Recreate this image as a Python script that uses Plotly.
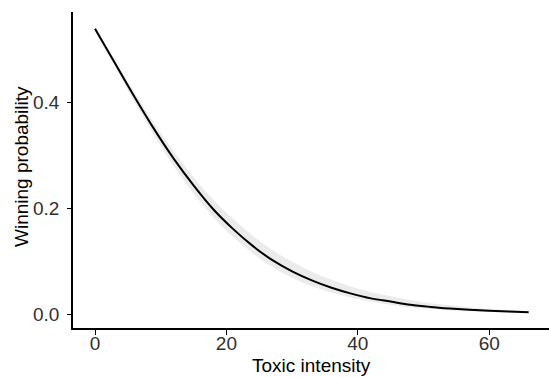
import plotly.graph_objects as go

# Values
toxic_intensity = [0, 3, 6, 9, 12, 15, 18, 21, 24, 27, 30, 33, 36, 39, 42, 45, 48, 51, 54, 57, 60, 63, 66]
win_prob = [0.538, 0.474, 0.410, 0.349, 0.293, 0.243, 0.198, 0.161, 0.129, 0.102, 0.081, 0.064,
            0.050, 0.039, 0.030, 0.024, 0.018, 0.014, 0.011, 0.0086, 0.0066, 0.0051, 0.0040]
ci_lower = [0.533, 0.467, 0.400, 0.337, 0.279, 0.228, 0.183, 0.146, 0.115, 0.089, 0.069, 0.053,
            0.041, 0.031, 0.024, 0.018, 0.013, 0.010, 0.0075, 0.0056, 0.0042, 0.0031, 0.0023]
ci_upper = [0.543, 0.480, 0.418, 0.360, 0.307, 0.259, 0.216, 0.180, 0.148, 0.121, 0.099, 0.080,
            0.065, 0.052, 0.042, 0.034, 0.027, 0.021, 0.017, 0.013, 0.010, 0.0080, 0.0063]

x_ticks = [0, 20, 40, 60]
y_ticks = [0.0, 0.2, 0.4]
y_tick_labels = ["0.0", "0.2", "0.4"]
x_title = "Toxic intensity"
y_title = "Winning probability"

fig = go.Figure()
fig.add_trace(go.Scatter(x=toxic_intensity, y=ci_upper, mode="lines", line=dict(width=0, shape="spline"),
                         hoverinfo="skip", showlegend=False))
fig.add_trace(go.Scatter(x=toxic_intensity, y=ci_lower, mode="lines", line=dict(width=0, shape="spline"),
                         fill="tonexty", fillcolor="rgb(235,235,235)", hoverinfo="skip", showlegend=False))
fig.add_trace(go.Scatter(x=toxic_intensity, y=win_prob, mode="lines",
                         line=dict(color="black", width=2, shape="spline"), showlegend=False))

font_family = "Liberation Sans, Arial, sans-serif"
fig.update_layout(
    width=549, height=378,
    margin=dict(l=73, r=0, t=12, b=50, autoexpand=False),
    paper_bgcolor="white", plot_bgcolor="white",
    font=dict(family=font_family, size=19, color="#303030"),
    xaxis=dict(range=[-3.35, 69.1], tickvals=x_ticks, showgrid=False, zeroline=False,
               showline=True, linecolor="black", linewidth=1.5, automargin=False,
               ticks="outside", ticklen=5, tickwidth=1.2, tickcolor="black",
               ticklabelstandoff=-8,
               tickfont=dict(size=19, color="#303030")),
    yaxis=dict(range=[-0.0258, 0.5698], tickvals=y_ticks, ticktext=y_tick_labels, showgrid=False,
               zeroline=False, showline=True, linecolor="black", linewidth=1.5, automargin=False,
               ticks="outside", ticklen=4, tickwidth=1.2, tickcolor="black",
               ticklabelstandoff=4,
               tickfont=dict(size=19, color="#303030")),
    annotations=[
        dict(text=x_title, xref="paper", yref="paper", x=0.5, y=0, xanchor="center", yanchor="top",
             yshift=-25, showarrow=False, font=dict(size=19, color="black")),
        dict(text=y_title, xref="paper", yref="paper", x=0, y=0.5, xanchor="center", yanchor="middle",
             xshift=-52, yshift=3, textangle=-90, showarrow=False, font=dict(size=19, color="black")),
    ],
)

fig.write_html("out.html", config={"displayModeBar": False},
               post_script="document.body.style.margin='0';")
